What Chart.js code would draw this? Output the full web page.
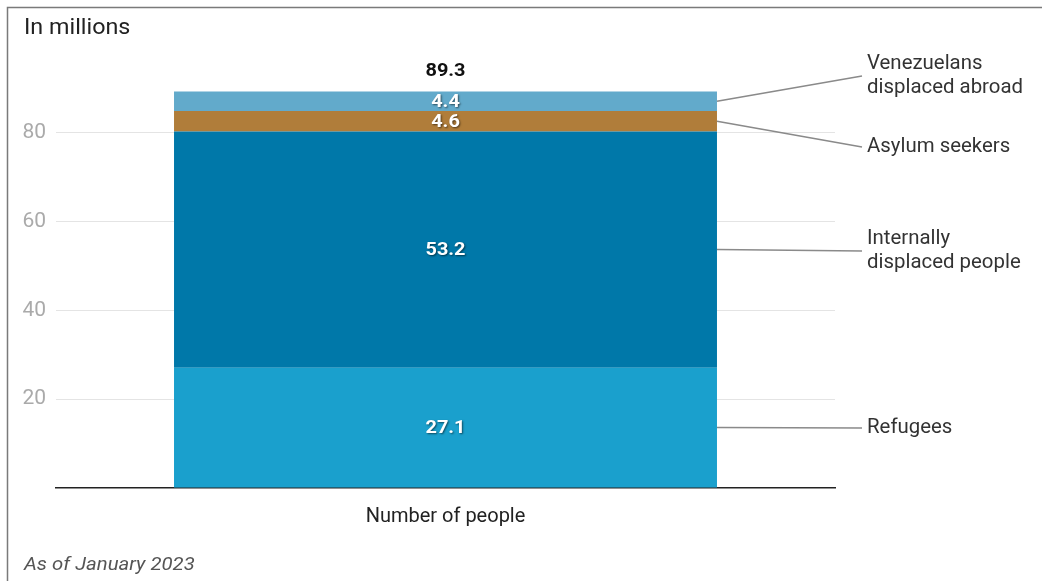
<!DOCTYPE html>
<html>
<head>
<meta charset="utf-8">
<script src="https://cdn.jsdelivr.net/npm/chart.js@4.4.1/dist/chart.umd.min.js"></script>
<style>
  html, body { margin: 0; padding: 0; background: #fff; }
  #wrap { width: 1042px; height: 581px; position: relative; }
</style>
</head>
<body>
<div id="wrap"><canvas id="chart" width="1042" height="581"></canvas></div>
<script>
// data, bottom segment first
const categories = ['Number of people'];
const seriesNames = ['Refugees', 'Internally displaced people', 'Asylum seekers', 'Venezuelans displaced abroad'];
const refugees = [27.1];
const idp = [53.2];
const asylum = [4.6];
const venezuelans = [4.4];
const yTicks = [20, 40, 60, 80];

const colors = ['#1aa0cd', '#0078a9', '#b07d3a', '#62aacb'];
// text of the annotations on the right
const sideLabels = [
  ['Refugees'],
  ['Internally', 'displaced people'],
  ['Asylum seekers'],
  ['Venezuelans', 'displaced abroad']
];
const labelY = [428, 251, 147, 76]; // centre of each side label block

const FONT = 'Roboto, "Noto Sans", sans-serif';

// text a little wider than the font gives, like the source picture
function wideText(ctx, text, x, y, align, sx) {
  ctx.save();
  ctx.translate(x, y);
  ctx.scale(sx, 1);
  ctx.textAlign = align;
  ctx.fillText(text, 0, 0);
  ctx.restore();
}

const annotations = {
  id: 'annotations',
  afterDatasetsDraw(chart) {
    const ctx = chart.ctx;
    ctx.save();
    ctx.textBaseline = 'middle';

    // frame
    ctx.strokeStyle = '#7a7a7a';
    ctx.lineWidth = 1.5;
    ctx.beginPath();
    ctx.moveTo(7.5, 581);
    ctx.lineTo(7.5, 7.5);
    ctx.lineTo(1042, 7.5);
    ctx.stroke();

    ctx.fillStyle = '#222';
    ctx.font = '22px ' + FONT;
    wideText(ctx, 'In millions', 24, 28, 'left', 1.06);

    ctx.fillStyle = '#555';
    ctx.font = 'italic 19px ' + FONT;
    wideText(ctx, 'As of January 2023', 24, 565, 'left', 1.07);

    let total = 0;
    chart.data.datasets.forEach((ds, i) => {
      const bar = chart.getDatasetMeta(i).data[0];
      const v = ds.data[0];
      total += v;
      const mid = (bar.y + bar.base) / 2;

      // value inside the segment
      ctx.save();
      ctx.font = 'bold 19px ' + FONT;
      ctx.fillStyle = '#fff';
      ctx.shadowColor = 'rgba(0,0,0,0.55)';
      ctx.shadowBlur = 2;
      ctx.shadowOffsetX = 1;
      ctx.shadowOffsetY = 1;
      wideText(ctx, v.toFixed(1), bar.x, mid + 1, 'center', 1.05);
      ctx.restore();

      // leader line + side label
      const right = bar.x + bar.width / 2;
      const lines = sideLabels[i];
      const ly = labelY[i];
      ctx.strokeStyle = '#8a8a8a';
      ctx.lineWidth = 1.5;
      ctx.beginPath();
      ctx.moveTo(right, mid);
      ctx.lineTo(862, ly);
      ctx.stroke();
      ctx.fillStyle = '#333';
      ctx.font = '20px ' + FONT;
      const lh = 24;
      const start = ly - (lines.length - 1) * lh / 2;
      lines.forEach((t, k) => wideText(ctx, t, 867, start + k * lh, 'left', 1.02));
    });

    // total above the bar
    const top = chart.getDatasetMeta(3).data[0];
    ctx.fillStyle = '#111';
    ctx.font = 'bold 19px ' + FONT;
    wideText(ctx, total.toFixed(1), top.x, 71, 'center', 1.05);
    ctx.restore();
  }
};

const datasets = [refugees, idp, asylum, venezuelans].map((d, i) => ({
  label: seriesNames[i],
  data: d,
  backgroundColor: colors[i],
  borderWidth: 0,
  barPercentage: 0.697,
  categoryPercentage: 1
}));

new Chart(document.getElementById('chart'), {
  type: 'bar',
  data: { labels: categories, datasets },
  options: {
    responsive: false,
    animation: false,
    layout: { padding: { top: 44, right: 207, left: 0, bottom: 0 } },
    plugins: { legend: { display: false }, tooltip: { enabled: false } },
    scales: {
      x: {
        stacked: true,
        grid: { display: false },
        border: { display: true, color: '#222', width: 1.5 },
        ticks: { color: '#222', font: { family: FONT, size: 20 }, padding: 9 },
        afterFit: (s) => { s.height = 93; }
      },
      y: {
        stacked: true,
        min: 0,
        max: 100,
        border: { display: false },
        grid: {
          color: (c) => yTicks.includes(c.tick.value) ? '#e4e4e4' : 'rgba(0,0,0,0)',
          lineWidth: 1,
          drawTicks: false
        },
        ticks: {
          stepSize: 20,
          color: '#aaa',
          padding: 10,
          font: { family: FONT, size: 21 },
          callback: (v) => yTicks.includes(v) ? v : ''
        },
        afterFit: (s) => { s.width = 56; }
      }
    }
  },
  plugins: [annotations]
});
</script>
</body>
</html>
